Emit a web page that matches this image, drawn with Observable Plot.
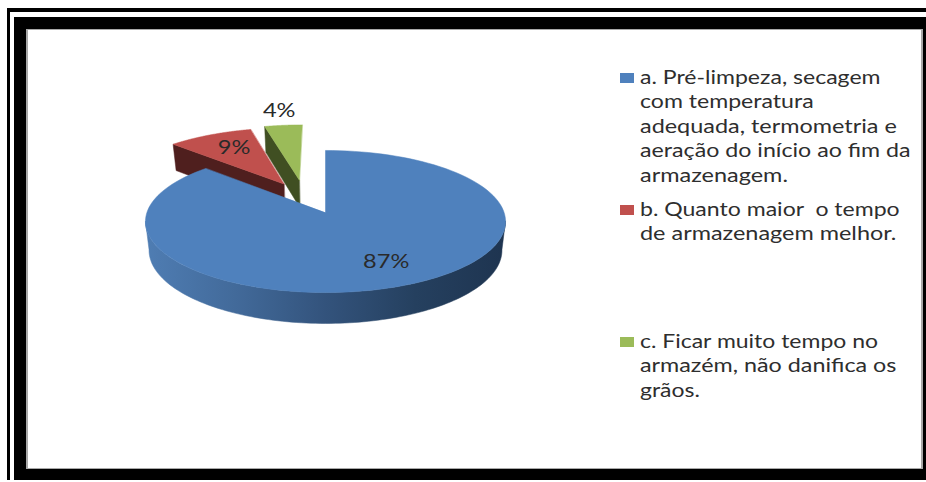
<!DOCTYPE html>
<html lang="pt">
<head>
<meta charset="utf-8">
<script src="https://cdn.jsdelivr.net/npm/d3@7"></script>
<script src="https://cdn.jsdelivr.net/npm/@observablehq/plot@0.6"></script>
<style>
  html, body { margin: 0; background: #fff; overflow: hidden; }
  #stage { position: relative; width: 926px; height: 482px; overflow: hidden; font-family: Lato, sans-serif; }
  .band { position: absolute; }
  #stage svg { position: absolute; left: 0; top: 0; background: transparent; overflow: visible; }
  .swatch { position: absolute; width: 14px; height: 10px; }
  .entry { position: absolute; left: 640px; white-space: pre; font-size: 19.5px; line-height: 24.5px;
           color: #2e2e2e; transform-origin: left center; }
</style>
</head>
<body>
<div id="stage"></div>
<script>
// Survey answers, in percent
const answers = ["a", "b", "c"];
const shares = [87, 9, 4];
const colors = ["#4f81bd", "#c0504d", "#9bbb59"];
const sideColors = ["#3d6595", "#4f1f1e", "#404f22"];
const legendLines = [
  ["a. Pré-limpeza, secagem", "com temperatura", "adequada, termometria e", "aeração do início ao fim da", "armazenagem."],
  ["b. Quanto maior  o tempo", "de armazenagem melhor."],
  ["c. Ficar muito tempo no", "armazém, não danifica os", "grãos."]
];
// Rendered width of each legend line, in pixels
const legendWidths = [[241, 174, 257, 270, 148], [260, 256], [238, 256, 60]];

// Pie-plane geometry: slices pulled out of the centre, and label placement along each bisector
const explode = [[0, 0], [-0.245, -0.43], [-0.155, -0.49]];
const labelReach = [0.72, 0.72, 1.3];
const labelShift = [[5, -1], [5, 0], [0, 0]];
const tilt = 0.1268;
const deg = Math.PI / 180;

// Perspective from the pie plane (u to the right, v toward the viewer) to the x and y scales
const project = ([u, v]) => { const w = 1 - tilt * v; return [u / w, v / w]; };
const rim = (a, o = [0, 0], r = 1) => [o[0] + r * Math.sin(a), o[1] - r * Math.cos(a)];
const lower = ([x, y]) => [x * 0.98, y * 1.031 + 0.407];

const arcs = d3.pie().sort(null)(shares);
const arcPoints = (a0, a1, o) => d3.range(0, 1.0001, 1 / 120).map((t) => project(rim(a0 + (a1 - a0) * t, o)));

const faces = arcs.map((a, i) => [project(explode[i]), ...arcPoints(a.startAngle, a.endAngle, explode[i])]);

// Cut face of each pulled-out slice
const cutFace = (i) => {
  const apex = project(explode[i]);
  const edge = project(rim(arcs[i].startAngle, explode[i]));
  return [apex, edge, lower(edge), lower(apex)];
};

// Outer wall of the main slice, between the two silhouette points of its rim
const wallTop = arcPoints(97 * deg, 263 * deg, explode[0]);
const wall = [...wallTop, ...wallTop.map(lower).reverse()];

const labels = arcs.map((a, i) => {
  const mid = (a.startAngle + a.endAngle) / 2;
  const [x, y] = project(rim(mid, explode[i], labelReach[i]));
  return { x, y, text: `${shares[i]}%`, dx: labelShift[i][0], dy: labelShift[i][1] };
});

const polygon = (points, fill) => Plot.line(points, { x: "0", y: "1", fill, stroke: fill, strokeWidth: 0.5, curve: "linear-closed" });

const wallGradient = () => {
  const defs = d3.create("svg:defs");
  const g = defs.append("linearGradient").attr("id", "wallShade");
  [[0, "#4f7db3"], [0.25, "#426a9a"], [0.5, "#33537c"], [0.75, "#25405f"], [1, "#1e3450"]].forEach(([o, c]) =>
    g.append("stop").attr("offset", o).attr("stop-color", c));
  return defs.node();
};

const chart = Plot.plot({
  width: 926,
  height: 482,
  margin: 0,
  x: { domain: [-1, 1], range: [146.4, 503.6], axis: null },
  y: { domain: [-1, 1], range: [142.1, 281.9], axis: null },
  marks: [
    wallGradient,
    polygon(cutFace(1), sideColors[1]),
    polygon(faces[1], colors[1]),
    polygon(cutFace(2), sideColors[2]),
    polygon(faces[2], colors[2]),
    polygon(wall, "url(#wallShade)"),
    polygon(faces[0], colors[0]),
    ...labels.map((d) => Plot.text([d], {
      x: "x", y: "y", text: "text", dx: d.dx, dy: d.dy,
      fontSize: 20, fontFamily: "Lato, sans-serif", fill: "#2a2a2a"
    }))
  ]
});

// Double frame around the chart area
const stage = document.getElementById("stage");
const band = (left, top, width, height, background) => {
  const el = document.createElement("div");
  el.className = "band";
  el.style.cssText = `left:${left}px;top:${top}px;width:${width}px;height:${height}px;background:${background}`;
  stage.append(el);
};
band(7, 8, 919, 472, "#000");
band(10, 12, 916, 468, "#fff");
band(14, 17, 912, 463, "#000");
band(26, 29, 897, 440, "#a8a8a8");
band(28, 30, 893, 438, "#fff");
stage.append(chart);

// The value labels run a little wider than the font's own proportions
chart.querySelectorAll("text").forEach((t) => {
  t.setAttribute("textLength", (t.getComputedTextLength() * 1.18).toFixed(1));
  t.setAttribute("lengthAdjust", "spacingAndGlyphs");
});

// Legend
const firstLine = [77, 209, 341];
legendLines.forEach((lines, i) => {
  const sw = document.createElement("div");
  sw.className = "swatch";
  sw.style.cssText = `left:620px;top:${firstLine[i] - 4}px;background:${colors[i]}`;
  stage.append(sw);
  lines.forEach((line, j) => {
    const t = document.createElement("div");
    t.className = "entry";
    t.textContent = line;
    t.style.top = `${firstLine[i] + j * 24.5 - 12.25}px`;
    stage.append(t);
    t.style.transform = `scaleX(${legendWidths[i][j] / t.offsetWidth})`;
  });
});
</script>
</body>
</html>
